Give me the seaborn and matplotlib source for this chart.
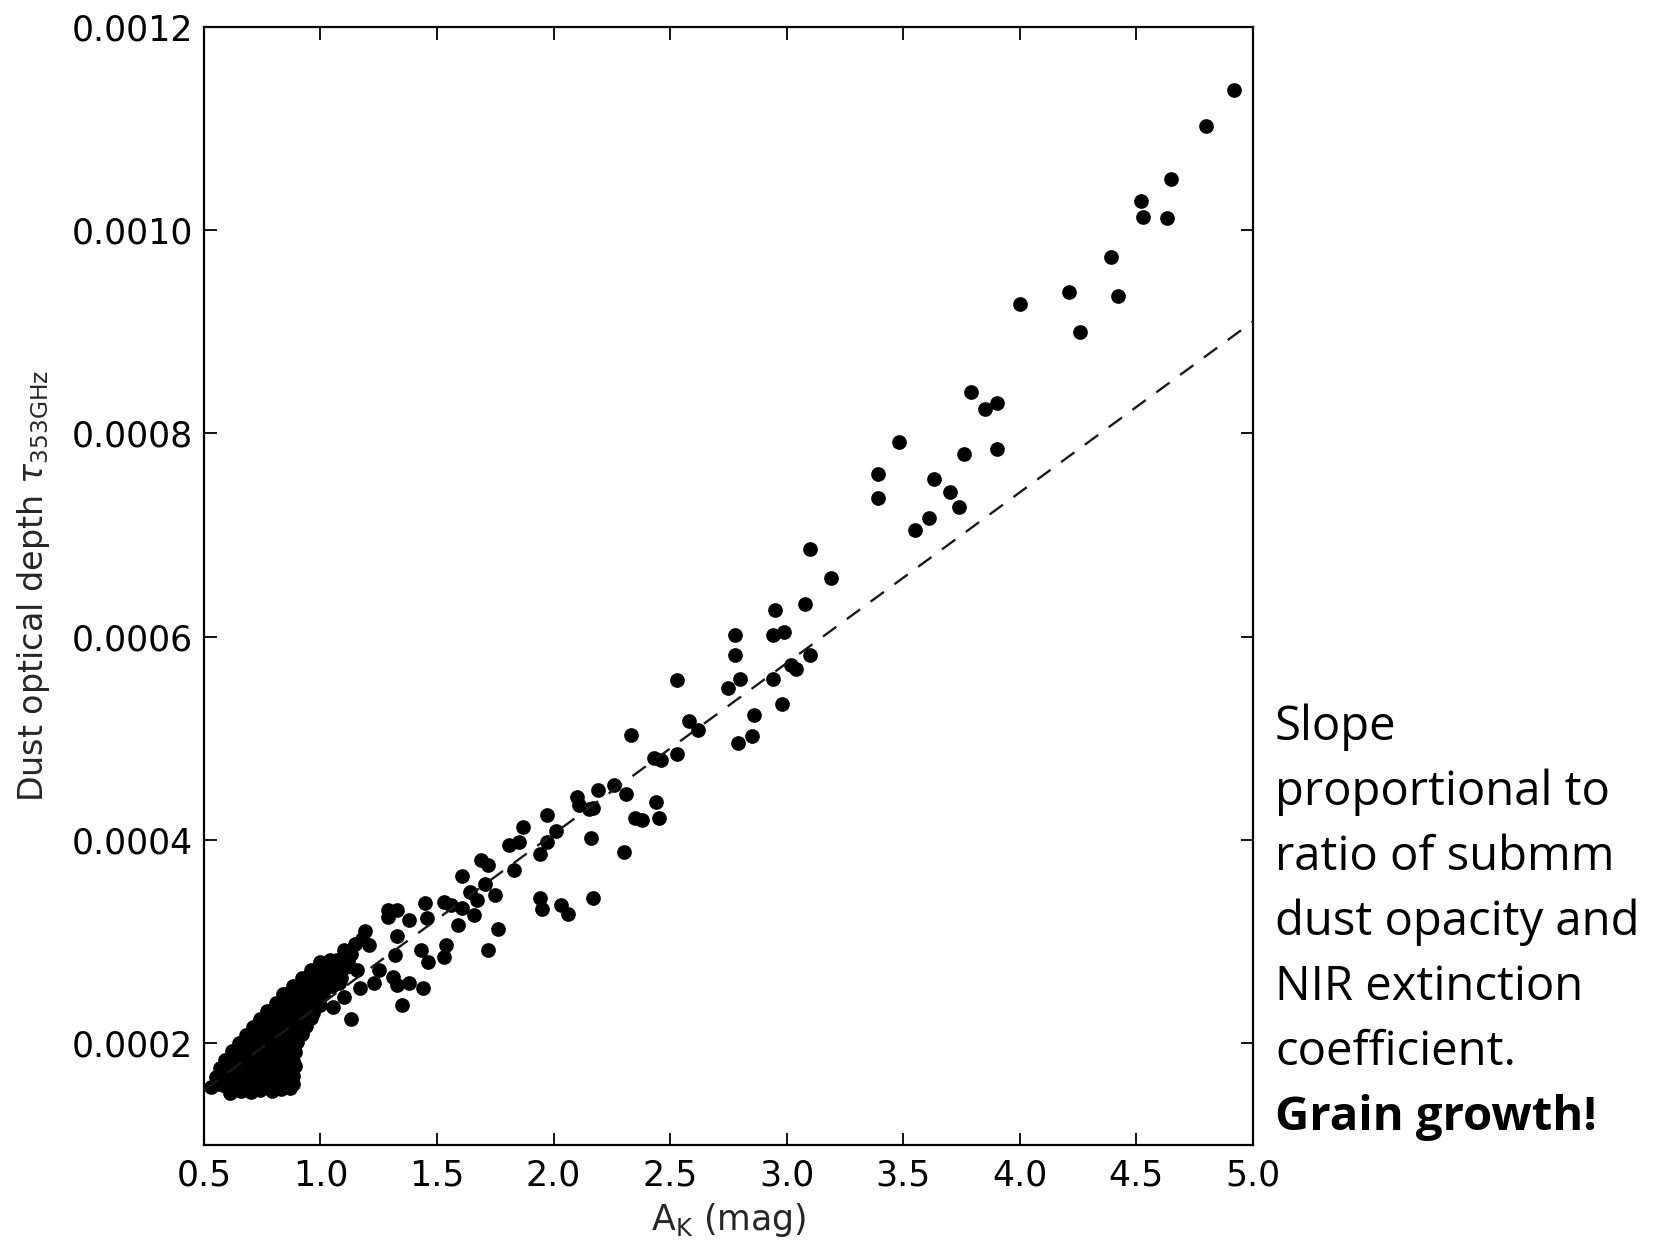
import matplotlib
matplotlib.use('Agg')
import matplotlib.pyplot as plt
from matplotlib.ticker import FormatStrFormatter
import numpy as np
import pandas as pd
import seaborn as sns

# A_K (mag) and tau_353GHz, sparse part of the relation
ak_outer = [
    4.92, 4.80, 4.65, 4.52, 4.53, 4.63, 4.39, 4.21, 4.42, 4.00, 4.26,
    3.79, 3.85, 3.90, 3.48, 3.76, 3.90, 3.39, 3.39, 3.63, 3.70, 3.74, 3.61, 3.55, 3.19,
    3.10, 3.08, 2.95, 2.78, 2.94, 2.99, 2.78, 3.10, 3.04, 3.02, 2.80, 2.94, 2.75, 2.53,
    2.98, 2.86, 2.58, 2.62, 2.85, 2.79, 2.43, 2.46, 2.53, 2.44, 2.45,
    2.33, 2.19, 2.26, 2.31, 2.10, 2.11, 2.15, 2.17, 2.35, 2.38, 1.97, 1.87, 2.01,
    1.81, 1.85, 1.97, 1.94, 2.16, 2.30, 1.83, 1.75, 1.94, 1.95, 2.03, 2.06, 2.17,
    1.76, 1.72, 1.69, 1.72, 1.605, 1.705, 1.64, 1.67, 1.45, 1.53, 1.56, 1.605, 1.66,
    1.29, 1.33, 1.29, 1.38, 1.455, 1.59, 1.19, 1.21, 1.33, 1.32, 1.43, 1.46, 1.54, 1.53,
    1.25, 1.23, 1.31, 1.33, 1.38, 1.44, 1.35, 1.13, 1.07, 1.13, 1.18, 1.155, 1.08,
    1.17, 1.10, 1.055, 1.10, 1.15,
]
tau_outer = [
    0.001138, 0.001102, 0.001050, 0.001029, 0.001013, 0.001012, 0.000973, 0.000939,
    0.000935, 0.000927, 0.000900,
    0.000841, 0.000824, 0.000830, 0.000791, 0.000780, 0.000785, 0.000760, 0.000736,
    0.000755, 0.000742, 0.000728, 0.000717, 0.000705, 0.000658,
    0.000686, 0.000632, 0.000626, 0.000602, 0.000602, 0.000605, 0.000582, 0.000582,
    0.000568, 0.000572, 0.000558, 0.000558, 0.000549, 0.000557,
    0.000534, 0.000523, 0.000517, 0.000508, 0.000502, 0.000495, 0.000481, 0.000479,
    0.000485, 0.000437, 0.000422,
    0.000503, 0.000449, 0.000454, 0.000445, 0.000442, 0.000434, 0.000430, 0.000431,
    0.000422, 0.000420, 0.000425, 0.000413, 0.000409,
    0.000395, 0.000398, 0.000398, 0.000386, 0.000402, 0.000388, 0.000370, 0.000346,
    0.000343, 0.000332, 0.000336, 0.000327, 0.000343,
    0.000312, 0.000292, 0.000380, 0.000375, 0.000365, 0.000357, 0.000349, 0.000341,
    0.000338, 0.000339, 0.000336, 0.000333, 0.000326,
    0.000331, 0.000331, 0.000324, 0.000321, 0.000323, 0.000316, 0.000310, 0.000297,
    0.000306, 0.000287, 0.000292, 0.000280, 0.000297, 0.000285,
    0.000272, 0.000259, 0.000265, 0.000257, 0.000259, 0.000254, 0.000238, 0.000224,
    0.000282, 0.000288, 0.000303, 0.000272, 0.000259,
    0.000254, 0.000246, 0.000236, 0.000292, 0.000298,
]

# dense low-extinction cloud
ak_dense = [
    0.61, 0.66, 0.70, 0.74, 0.79, 0.83, 0.87,
    0.53, 0.56, 0.59, 0.63, 0.67, 0.71, 0.75, 0.78, 0.82, 0.86, 0.88,
    0.55, 0.58, 0.62, 0.65, 0.69, 0.73, 0.76, 0.80, 0.84, 0.88,
    0.57, 0.60, 0.64, 0.68, 0.71, 0.75, 0.79, 0.82, 0.86, 0.89,
    0.59, 0.62, 0.66, 0.70, 0.73, 0.77, 0.81, 0.85, 0.88,
    0.62, 0.65, 0.69, 0.72, 0.76, 0.80, 0.83, 0.87, 0.89,
    0.65, 0.68, 0.72, 0.75, 0.79, 0.82, 0.86, 0.90,
    0.68, 0.71, 0.74, 0.78, 0.81, 0.85, 0.88, 0.92,
    0.71, 0.74, 0.77, 0.81, 0.84, 0.88, 0.91, 0.94,
    0.74, 0.77, 0.80, 0.84, 0.87, 0.91, 0.94, 0.96,
    0.77, 0.80, 0.83, 0.87, 0.90, 0.94, 0.97,
    0.81, 0.84, 0.87, 0.91, 0.94, 0.97, 1.00,
    0.84, 0.87, 0.90, 0.94, 0.97, 1.01,
    0.88, 0.91, 0.95, 0.98, 1.02, 1.05,
    0.92, 0.95, 0.99, 1.02, 1.05, 1.09,
    0.96, 0.99, 1.03, 1.07, 1.11,
    1.00, 1.04, 1.08, 1.12,
]
tau_dense = [
    0.000151, 0.000153, 0.000152, 0.000154, 0.000153, 0.000155, 0.000156,
    0.000157, 0.000160, 0.000158, 0.000161, 0.000159, 0.000162, 0.000160, 0.000158,
    0.000161, 0.000163, 0.000160,
    0.000167, 0.000170, 0.000168, 0.000166, 0.000169, 0.000171, 0.000167, 0.000169,
    0.000166, 0.000168,
    0.000176, 0.000174, 0.000177, 0.000175, 0.000178, 0.000176, 0.000174, 0.000177,
    0.000175, 0.000178,
    0.000184, 0.000186, 0.000183, 0.000185, 0.000187, 0.000184, 0.000182, 0.000185,
    0.000183,
    0.000192, 0.000194, 0.000191, 0.000193, 0.000195, 0.000192, 0.000190, 0.000193,
    0.000191,
    0.000200, 0.000202, 0.000199, 0.000201, 0.000203, 0.000200, 0.000198, 0.000201,
    0.000208, 0.000210, 0.000207, 0.000209, 0.000211, 0.000208, 0.000206, 0.000209,
    0.000216, 0.000218, 0.000215, 0.000217, 0.000219, 0.000216, 0.000214, 0.000217,
    0.000224, 0.000226, 0.000223, 0.000225, 0.000227, 0.000224, 0.000222, 0.000225,
    0.000232, 0.000234, 0.000231, 0.000233, 0.000235, 0.000232, 0.000230,
    0.000240, 0.000242, 0.000239, 0.000241, 0.000243, 0.000240, 0.000238,
    0.000248, 0.000250, 0.000247, 0.000249, 0.000251, 0.000248,
    0.000256, 0.000258, 0.000255, 0.000257, 0.000259, 0.000256,
    0.000264, 0.000266, 0.000263, 0.000265, 0.000267, 0.000264,
    0.000272, 0.000274, 0.000271, 0.000273, 0.000275,
    0.000280, 0.000282, 0.000279, 0.000281,
]

# linear relation (dashed)
fit_ak = [0.5, 5.0]
fit_tau = [0.000154, 0.000910]

x_ticks = [0.5, 1.0, 1.5, 2.0, 2.5, 3.0, 3.5, 4.0, 4.5, 5.0]
y_ticks = [0.0002, 0.0004, 0.0006, 0.0008, 0.0010, 0.0012]

note_lines = ["Slope", "proportional to", "ratio of submm",
              "dust opacity and", "NIR extinction", "coefficient."]
note_bold = "Grain growth!"


def main():
    sns.set_style("ticks")
    plt.rcParams['font.family'] = ['DejaVu Sans']
    plt.rcParams['mathtext.fontset'] = 'dejavusans'

    df = pd.DataFrame({
        'AK': ak_dense + ak_outer,
        'tau': tau_dense + tau_outer,
    })
    df_fit = pd.DataFrame({'AK': fit_ak, 'tau': fit_tau})

    fig = plt.figure(figsize=(16.66, 12.43), dpi=100)
    ax = fig.add_axes([0.1224, 0.0789, 0.6297, 0.8996])

    sns.scatterplot(data=df, x='AK', y='tau', ax=ax, color='black',
                    s=112, linewidth=0, marker='o', zorder=2)
    sns.lineplot(data=df_fit, x='AK', y='tau', ax=ax, color='#1a1a1a',
                 linewidth=1.7, linestyle=(0, (7, 5.5)), zorder=3)

    ax.set_xlim(0.5, 5.0)
    ax.set_ylim(0.0001, 0.0012)
    ax.set_xticks(x_ticks)
    ax.set_yticks(y_ticks)
    ax.xaxis.set_major_formatter(FormatStrFormatter('%.1f'))
    ax.yaxis.set_major_formatter(FormatStrFormatter('%.4f'))
    ax.tick_params(direction='in', top=True, right=True, length=9,
                   width=1.3, labelsize=25, colors='black')
    ax.tick_params(axis='x', pad=10)
    ax.tick_params(axis='y', pad=8)
    for sp in ax.spines.values():
        sp.set_linewidth(1.6)
        sp.set_color('black')

    ax.set_xlabel(r'$\mathrm{A_K}$ (mag)', fontsize=25, labelpad=6)
    ax.set_ylabel(r'Dust optical depth $\tau_{353\mathrm{GHz}}$', fontsize=24,
                  labelpad=14)

    # annotation on the right, one baseline per line
    x_txt = 1275 / 1666
    baselines = [740, 805, 870, 935, 1000, 1065]
    for line, yb in zip(note_lines, baselines):
        fig.text(x_txt, 1 - yb / 1243, line, fontsize=34, va='baseline',
                 ha='left', family='Open Sans', color='black')
    fig.text(x_txt, 1 - 1130 / 1243, note_bold, fontsize=34, va='baseline',
             ha='left', family='Open Sans', fontweight='bold', color='black')

    fig.savefig('out.png', dpi=100, facecolor='white')
    plt.close(fig)


if __name__ == "__main__":
    main()
